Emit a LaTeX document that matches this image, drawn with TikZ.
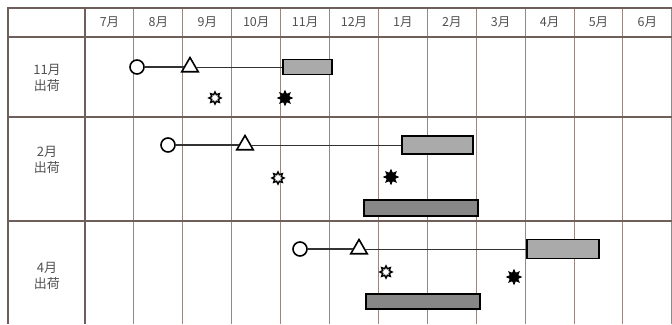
\documentclass[tikz,border=0pt]{standalone}
\usepackage{fontspec}
\newfontfamily\jpfont{Noto Sans CJK JP}
\usetikzlibrary{shapes.geometric}
\definecolor{gridcol}{RGB}{150,135,128}
\definecolor{framecol}{RGB}{110,95,90}
\definecolor{labelcol}{RGB}{80,80,80}
\definecolor{barlight}{RGB}{170,170,170}
\definecolor{bardark}{RGB}{135,135,135}
\tikzset{
  sow/.style={circle,draw,line width=1.6pt,fill=white,minimum size=14pt,inner sep=0pt},
  plant/.style={regular polygon,regular polygon sides=3,draw,line width=1.6pt,fill=white,minimum size=19pt,inner sep=0pt},
  bloom/.style={star,star points=8,star point ratio=1.7,draw,line width=1.5pt,fill=white,minimum size=12pt,inner sep=0pt},
  bud/.style={star,star points=8,star point ratio=1.8,draw,line width=0.6pt,fill=black,minimum size=15pt,inner sep=0pt},
  crop/.style={draw,line width=1.6pt,fill=barlight,inner sep=0pt},
  cropdark/.style={draw,line width=1.6pt,fill=bardark,inner sep=0pt},
  link/.style={line width=1pt,black!80},
  monthlab/.style={font=\jpfont\fontsize{12.5}{14}\selectfont,labelcol},
  rowlab/.style={font=\jpfont\fontsize{13}{16.5}\selectfont,labelcol,align=center}
}
\begin{document}
\begin{tikzpicture}[x=1pt,y=-1pt]
  \useasboundingbox (0,0) rectangle (672,324);
  % grid
  \foreach \i in {1,...,12}{
    \draw[gridcol,line width=1pt] (85+48.9*\i,8) -- (85+48.9*\i,324);}
  \foreach \y in {37,117,221}{
    \draw[framecol,line width=1.3pt] (8,\y) -- (672,\y);}
  \draw[framecol,line width=1.4pt] (672,8) -- (8,8) -- (8,324);
  \draw[framecol,line width=1.3pt] (85,8) -- (85,324);
  % months
  \foreach \m [count=\i from 0] in {7,8,9,10,11,12,1,2,3,4,5,6}{
    \node[monthlab] (m\i) at (85+48.9*\i+24.5,22.5) {\m 月};}
  % rows
  \node[rowlab] (r1) at (47,78) {11月\\出荷};
  \node[rowlab] (r2) at (47,160) {2月\\出荷};
  \node[rowlab] (r3) at (47,276) {4月\\出荷};
  % 11月出荷
  \node[crop,minimum width=49pt,minimum height=15pt] (h1) at (307.5,67) {};
  \node[sow] (s1) at (137,67) {};
  \node[plant] (p1) at (190,67) {};
  \draw[link,line width=1.6pt] (s1) -- (p1);
  \draw[link] (p1) -- (h1);
  \node[bloom] (f1) at (215,98) {};
  \node[bud] (b1) at (285,98) {};
  % 2月出荷
  \node[crop,minimum width=71pt,minimum height=18pt] (h2) at (437.5,145) {};
  \node[sow] (s2) at (168,145) {};
  \node[plant] (p2) at (245,145) {};
  \draw[link,line width=1.3pt] (s2) -- (p2);
  \draw[link] (p2) -- (h2);
  \node[bloom] (f2) at (278,178) {};
  \node[bud] (b2) at (391,177) {};
  \node[cropdark,minimum width=114pt,minimum height=16pt] (d2) at (421,208) {};
  % 4月出荷
  \node[crop,minimum width=72pt,minimum height=19pt] (h3) at (563,249) {};
  \node[sow] (s3) at (300,249) {};
  \node[plant] (p3) at (359,249) {};
  \draw[link,line width=1.3pt] (s3) -- (p3);
  \draw[link] (p3) -- (h3);
  \node[bloom] (f3) at (386,272) {};
  \node[bud] (b3) at (514,277) {};
  \node[cropdark,minimum width=114pt,minimum height=15pt] (d3) at (423,301.5) {};
\end{tikzpicture}
\end{document}
